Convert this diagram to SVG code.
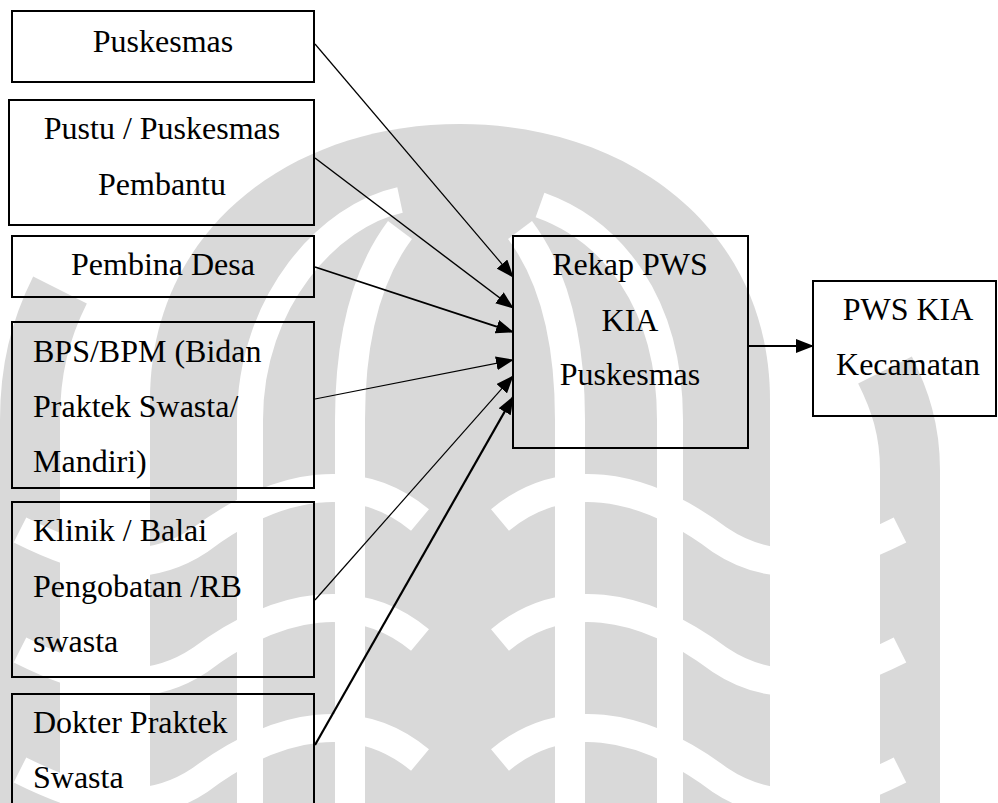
<svg xmlns="http://www.w3.org/2000/svg" width="998" height="803" viewBox="0 0 998 803">
<style>
.box{fill:none;stroke:#000;stroke-width:2}
.t{font-family:"Liberation Serif","Times New Roman",Times,serif;font-size:32px;fill:#000}
.c{text-anchor:middle}
.ln{stroke:#000;fill:none}
.wm{fill:none;stroke:#d9d9d9}
.wg{fill:none;stroke:#fff}
</style>
<defs>
<marker id="ah" markerUnits="userSpaceOnUse" markerWidth="18" markerHeight="14" refX="17" refY="7" orient="auto">
<path d="M0,0 L18,7 L0,14 Z" fill="#000"/>
</marker>
</defs>
<rect width="998" height="803" fill="#fff"/>
<g id="watermark">
<path d="M150,803 L150,400 C150,230 290,124 460,124 C630,124 770,230 770,400 L770,803 Z" fill="#d9d9d9"/>
<path class="wm" stroke-width="60" d="M30,803 L30,420 C30,370 40,330 60,290"/>
<path class="wm" stroke-width="60" d="M910,803 L910,470 C910,430 900,400 885,370"/>
<path class="wg" stroke-width="26" d="M250,803 L250,420 C250,300 330,215 400,200"/>
<path class="wg" stroke-width="26" d="M670,803 L670,420 C670,300 610,230 540,205"/>
<path class="wg" stroke-width="30" d="M350,803 L350,420 C350,330 370,270 400,230"/>
<path class="wg" stroke-width="30" d="M570,803 L570,420 C570,330 550,270 520,230"/>
<path class="wg" stroke-width="28" d="M500,520 C560,470 640,480 720,540 C780,580 840,560 900,530"/>
<path class="wg" stroke-width="28" d="M500,640 C560,590 640,600 720,660 C780,700 840,680 900,650"/>
<path class="wg" stroke-width="28" d="M500,760 C560,710 640,720 720,780 C780,820 840,800 900,770"/>
<path class="wg" stroke-width="28" d="M420,520 C360,470 280,480 200,540 C140,580 80,560 20,530"/>
<path class="wg" stroke-width="28" d="M420,640 C360,590 280,600 200,660 C140,700 80,680 20,650"/>
<path class="wg" stroke-width="28" d="M420,760 C360,710 280,720 200,780 C140,820 80,800 20,770"/>
</g>
<g id="connectors">
<line class="ln" stroke-width="1.2" x1="315" y1="44" x2="513" y2="277" marker-end="url(#ah)"/>
<line class="ln" stroke-width="1.4" x1="315" y1="158" x2="513" y2="308" marker-end="url(#ah)"/>
<line class="ln" stroke-width="1.8" x1="315" y1="267" x2="513" y2="332" marker-end="url(#ah)"/>
<line class="ln" stroke-width="1.2" x1="315" y1="399" x2="513" y2="360" marker-end="url(#ah)"/>
<line class="ln" stroke-width="1.2" x1="315" y1="600" x2="513" y2="376" marker-end="url(#ah)"/>
<line class="ln" stroke-width="2.2" x1="315" y1="745" x2="513" y2="397" marker-end="url(#ah)"/>
<line class="ln" stroke-width="2" x1="748" y1="346" x2="813" y2="346" marker-end="url(#ah)"/>
</g>
<g id="puskesmas">
<rect class="box" x="12" y="11" width="302" height="71"/>
<text class="t c" x="163" y="52">Puskesmas</text>
</g>
<g id="pustu">
<rect class="box" x="9" y="100" width="305" height="125"/>
<text class="t c" x="162" y="139">Pustu / Puskesmas</text>
<text class="t c" x="162" y="195">Pembantu</text>
</g>
<g id="pembina">
<rect class="box" x="12" y="236" width="302" height="61"/>
<text class="t c" x="163" y="275">Pembina Desa</text>
</g>
<g id="bps">
<rect class="box" x="12" y="322" width="302" height="166"/>
<text class="t" x="33" y="362">BPS/BPM (Bidan</text>
<text class="t" x="33" y="417">Praktek Swasta/</text>
<text class="t" x="33" y="472">Mandiri)</text>
</g>
<g id="klinik">
<rect class="box" x="12" y="502" width="302" height="175"/>
<text class="t" x="33" y="541">Klinik / Balai</text>
<text class="t" x="33" y="597">Pengobatan /RB</text>
<text class="t" x="33" y="652">swasta</text>
</g>
<g id="dokter">
<rect class="box" x="12" y="694" width="302" height="130"/>
<text class="t" x="33" y="733">Dokter Praktek</text>
<text class="t" x="33" y="788">Swasta</text>
</g>
<g id="rekap">
<rect class="box" x="513" y="236" width="235" height="212"/>
<text class="t c" x="630" y="275">Rekap PWS</text>
<text class="t c" x="630" y="331">KIA</text>
<text class="t c" x="630" y="385">Puskesmas</text>
</g>
<g id="pwskec">
<rect class="box" x="813" y="281" width="183" height="135"/>
<text class="t c" x="908" y="320">PWS KIA</text>
<text class="t c" x="908" y="375">Kecamatan</text>
</g>
</svg>
